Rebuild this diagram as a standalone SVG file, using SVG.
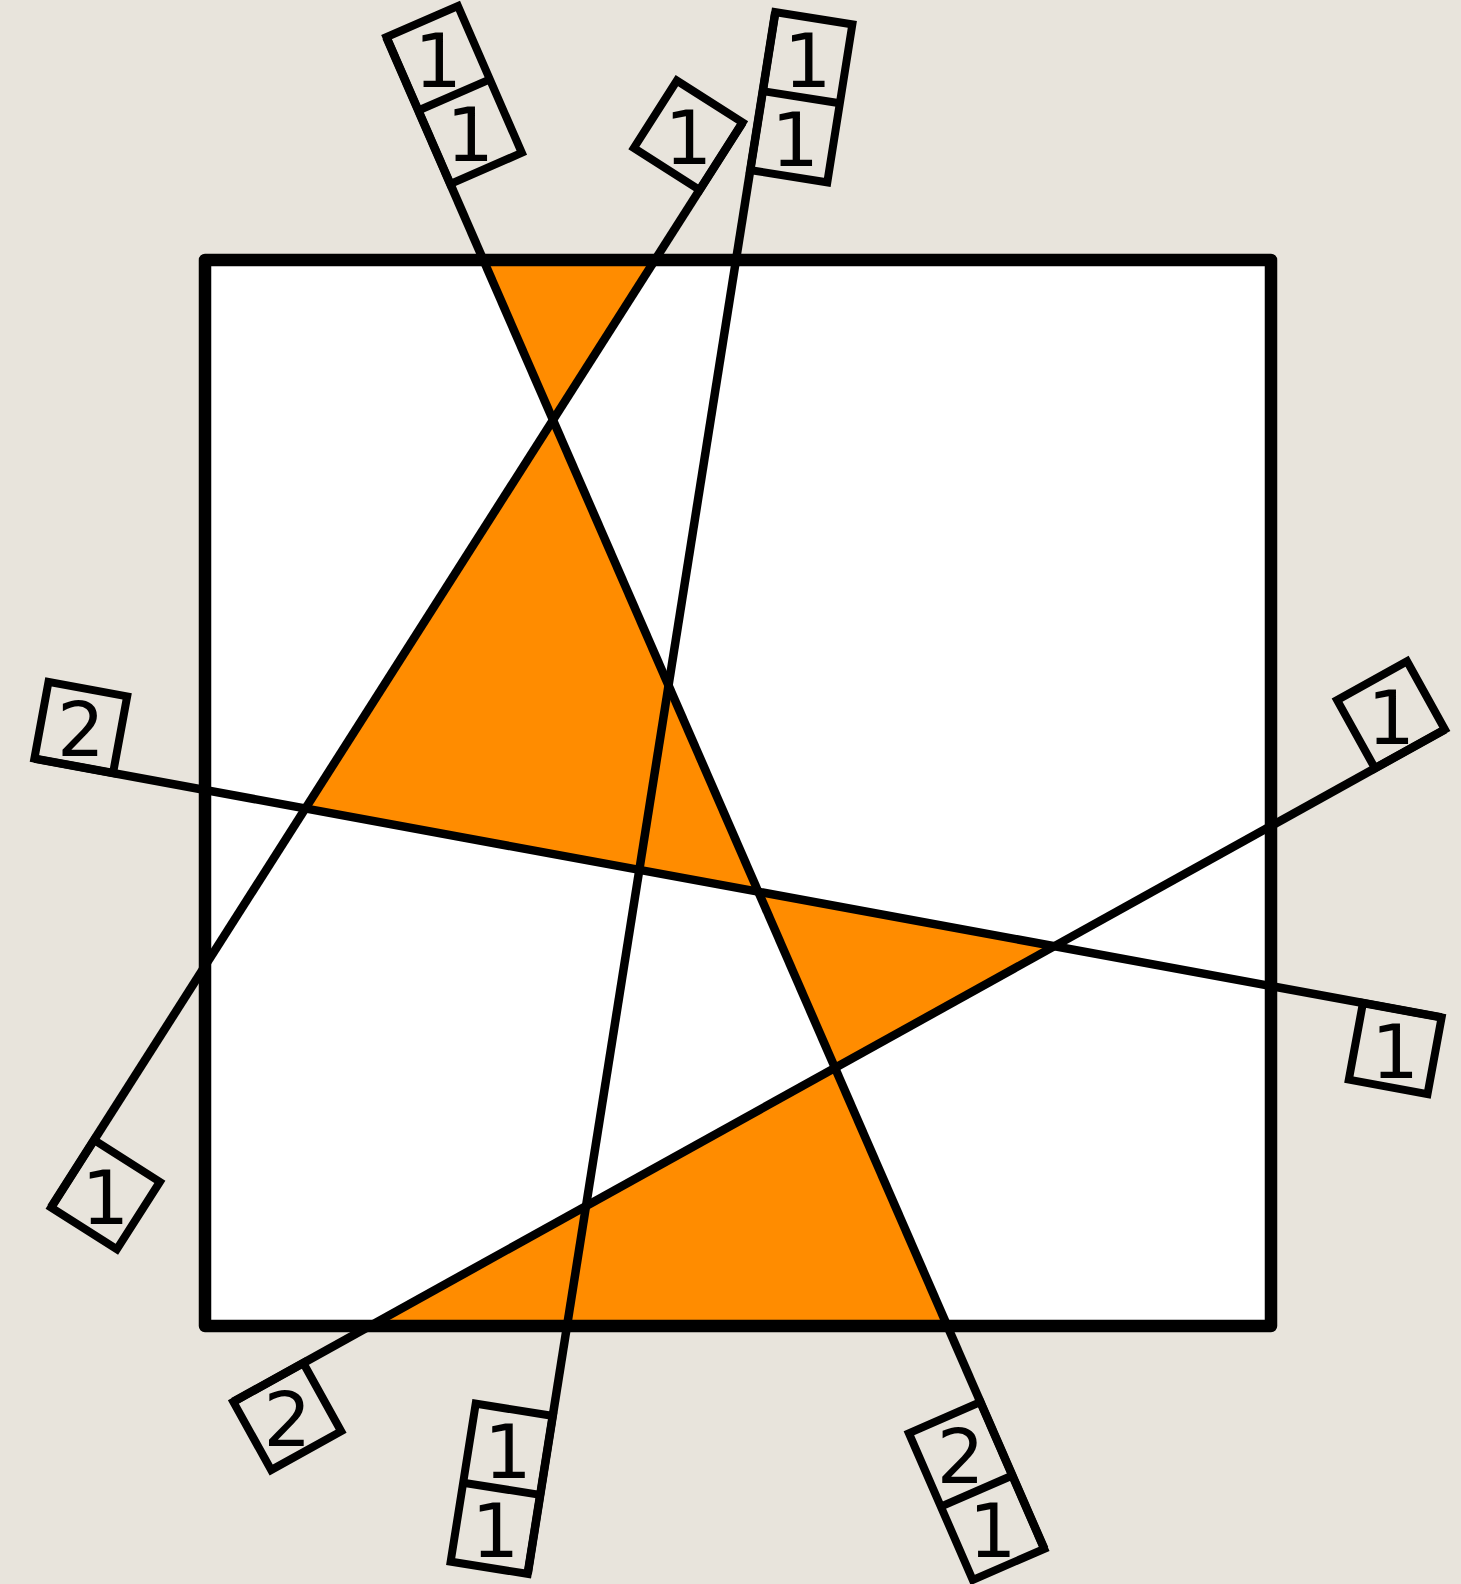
<svg xmlns="http://www.w3.org/2000/svg" width="1461" height="1584" viewBox="0 0 1461 1584">
<style>
.bg{fill:#e8e4dc}
.sqfill{fill:#ffffff}
.sqedge{fill:none;stroke:#000;stroke-width:12.5;stroke-linejoin:round}
.reg{fill:#ff8c00;stroke:none}
.ln{stroke:#000;stroke-width:8.5;fill:none;stroke-linecap:butt}
.box{fill:none;stroke:#000;stroke-width:8;stroke-linejoin:miter}
.lbl{font-family:"DejaVu Sans","Noto Sans",sans-serif;font-size:75px;fill:#000;text-anchor:middle}
</style>
<rect class="bg" x="0" y="0" width="1461" height="1584"/>
<g id="square-fill"><rect class="sqfill" x="205" y="260" width="1066" height="1066"/></g>
<g id="regions">
<polygon id="region-top" class="reg" points="483.4,260 655,260 553,420"/>
<polygon id="region-left" class="reg" points="553,420 758.4,891.8 305.4,808.5"/>
<polygon id="region-right" class="reg" points="758.4,891.8 1054.4,946.2 835,1068"/>
<polygon id="region-bottom" class="reg" points="835,1068 947.3,1326 370,1326"/>
</g>
<g id="connectors">
<line id="line-a" class="ln" x1="386.4" y1="37.2" x2="1044.3" y2="1548.8"/>
<line id="line-b" class="ln" x1="742.6" y1="122.5" x2="51.1" y2="1207.4"/>
<line id="line-c" class="ln" x1="775.3" y1="12.1" x2="527.7" y2="1573.9"/>
<line id="line-d" class="ln" x1="34.4" y1="758.6" x2="1441.6" y2="1017.4"/>
<line id="line-e" class="ln" x1="1444.9" y1="729.5" x2="233.3" y2="1401.8"/>
</g>
<g id="square"><rect class="sqedge" x="205" y="260" width="1066" height="1066"/></g>
<g id="label-a-top" transform="translate(483.4,260) rotate(-113.52)">
<rect class="box" x="83" y="0" width="160" height="78"/>
<line class="box" x1="163" y1="0" x2="163" y2="78"/>
<text class="lbl" transform="translate(123,39) rotate(113.52)" y="29">1</text>
<text class="lbl" transform="translate(203,39) rotate(113.52)" y="29">1</text>
</g>
<g id="label-a-bottom" transform="translate(947.3,1326) rotate(66.48)">
<rect class="box" x="83" y="0" width="160" height="78"/>
<line class="box" x1="163" y1="0" x2="163" y2="78"/>
<text class="lbl" transform="translate(123,39) rotate(-66.48)" y="29">2</text>
<text class="lbl" transform="translate(203,39) rotate(-66.48)" y="29">1</text>
</g>
<g id="label-b-top" transform="translate(655,260) rotate(-57.48)">
<rect class="box" x="83" y="-78" width="80" height="78"/>
<text class="lbl" transform="translate(123,-39) rotate(57.48)" y="29">1</text>
</g>
<g id="label-b-bottom" transform="translate(205,966) rotate(122.52)">
<rect class="box" x="206.3" y="-78" width="80" height="78"/>
<text class="lbl" transform="translate(246.3,-39) rotate(-122.52)" y="29">1</text>
</g>
<g id="label-c-top" transform="translate(736,260) rotate(-80.99)">
<rect class="box" x="91" y="0" width="160" height="78"/>
<line class="box" x1="171" y1="0" x2="171" y2="78"/>
<text class="lbl" transform="translate(131,39) rotate(80.99)" y="29">1</text>
<text class="lbl" transform="translate(211,39) rotate(80.99)" y="29">1</text>
</g>
<g id="label-c-bottom" transform="translate(567,1326) rotate(99.01)">
<rect class="box" x="91" y="0" width="160" height="78"/>
<line class="box" x1="171" y1="0" x2="171" y2="78"/>
<text class="lbl" transform="translate(131,39) rotate(-99.01)" y="29">1</text>
<text class="lbl" transform="translate(211,39) rotate(-99.01)" y="29">1</text>
</g>
<g id="label-d-left" transform="translate(205,790) rotate(-169.57)">
<rect class="box" x="93.5" y="0" width="80" height="78"/>
<text class="lbl" transform="translate(133.5,39) rotate(169.57)" y="29">2</text>
</g>
<g id="label-d-right" transform="translate(1271,986) rotate(10.43)">
<rect class="box" x="93.5" y="0" width="80" height="78"/>
<text class="lbl" transform="translate(133.5,39) rotate(-10.43)" y="29">1</text>
</g>
<g id="label-e-right" transform="translate(1271,826) rotate(-29.03)">
<rect class="box" x="118.9" y="-78" width="80" height="78"/>
<text class="lbl" transform="translate(158.9,-39) rotate(29.03)" y="29">1</text>
</g>
<g id="label-e-bottom" transform="translate(370,1326) rotate(150.97)">
<rect class="box" x="76.3" y="-78" width="80" height="78"/>
<text class="lbl" transform="translate(116.3,-39) rotate(-150.97)" y="29">2</text>
</g>
</svg>
